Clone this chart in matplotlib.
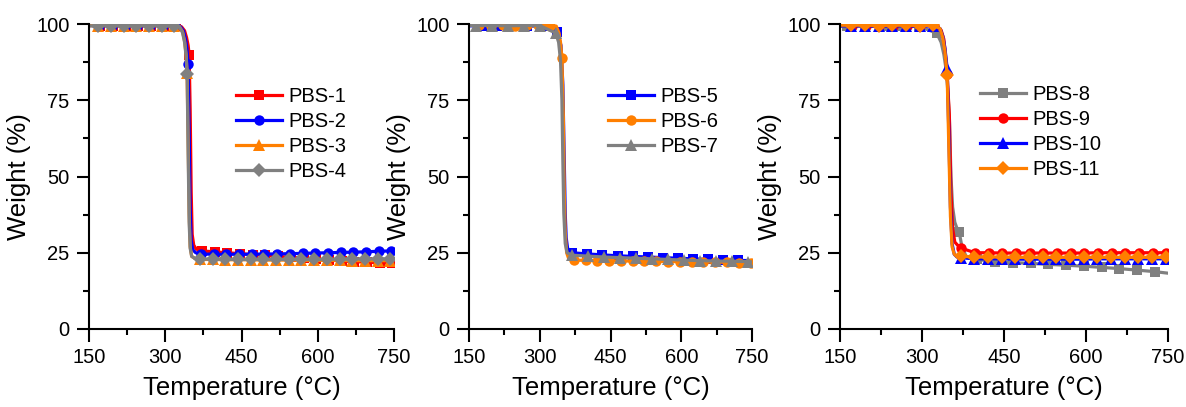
import matplotlib
matplotlib.use("Agg")
import matplotlib.pyplot as plt
from matplotlib.ticker import MultipleLocator

plt.rcParams['font.family'] = ['Liberation Sans', 'DejaVu Sans']

# ---------------- data (temperature in degC, weight in %) ----------------
# Each series: marker points (T_*, W_*) and extra curve-only points (Tx_*, Wx_*)

# Panel 1
T_PBS1 = [172, 197, 222, 247, 272, 297, 322, 347, 372, 397, 422, 447, 472, 497, 522, 547, 572, 597, 622, 647, 672, 697, 722, 747]
W_PBS1 = [99.5, 99.4, 99.5, 99.4, 99.5, 99.5, 99.4, 90.0, 25.6, 25.3, 25.0, 24.7, 24.4, 24.1, 23.8, 23.5, 23.2, 22.9, 22.6, 22.3, 22.1, 21.9, 21.7, 21.5]
Tx_PBS1 = [150, 332, 338, 342, 345, 349, 351, 353, 356, 361, 750]
Wx_PBS1 = [99.5, 99.1, 97.8, 95.5, 93.0, 72.0, 45.0, 31.0, 27.5, 26.2, 21.5]

T_PBS2 = [170, 195, 220, 245, 270, 295, 320, 345, 370, 395, 420, 445, 470, 495, 520, 545, 570, 595, 620, 645, 670, 695, 720, 745]
W_PBS2 = [99.5, 99.4, 99.5, 99.4, 99.5, 99.5, 99.4, 87.0, 24.6, 24.5, 24.5, 24.5, 24.5, 24.6, 24.6, 24.7, 24.8, 24.9, 25.0, 25.1, 25.2, 25.3, 25.5, 25.6]
Tx_PBS2 = [150, 330, 336, 340, 343, 347, 349, 351, 354, 360, 750]
Wx_PBS2 = [99.5, 99.1, 97.7, 95.0, 91.5, 65.0, 40.0, 29.0, 26.0, 25.0, 25.7]

T_PBS3 = [168, 193, 218, 243, 268, 293, 318, 343, 368, 393, 418, 443, 468, 493, 518, 543, 568, 593, 618, 643, 668, 693, 718, 743]
W_PBS3 = [99.5, 99.5, 99.4, 99.5, 99.5, 99.4, 99.5, 84.0, 22.8, 22.8, 22.7, 22.7, 22.7, 22.6, 22.6, 22.6, 22.5, 22.5, 22.5, 22.5, 22.4, 22.4, 22.4, 22.4]
Tx_PBS3 = [150, 328, 334, 338, 341, 345, 347, 349, 352, 358, 750]
Wx_PBS3 = [99.5, 99.1, 97.5, 94.5, 90.0, 62.0, 38.0, 27.0, 23.8, 23.2, 22.4]

T_PBS4 = [168, 193, 218, 243, 268, 293, 318, 343, 368, 393, 418, 443, 468, 493, 518, 543, 568, 593, 618, 643, 668, 693, 718, 743]
W_PBS4 = [99.4, 99.5, 99.5, 99.4, 99.5, 99.5, 99.4, 83.5, 23.0, 22.9, 22.9, 22.8, 22.8, 22.8, 22.8, 22.8, 22.8, 22.8, 22.9, 22.9, 23.0, 23.0, 23.0, 23.0]
Tx_PBS4 = [150, 328, 334, 338, 341, 345, 347, 349, 352, 358, 750]
Wx_PBS4 = [99.4, 99.0, 97.2, 94.0, 89.5, 58.0, 35.0, 26.5, 23.8, 23.2, 23.0]

# Panel 2
T_PBS5 = [177, 209, 241, 273, 305, 337, 369, 401, 433, 465, 497, 529, 561, 593, 625, 657, 689, 721]
W_PBS5 = [99.4, 99.3, 99.4, 99.3, 99.4, 97.4, 25.0, 24.6, 24.3, 24.0, 23.8, 23.6, 23.4, 23.2, 23.0, 22.8, 22.6, 22.5]
Tx_PBS5 = [150, 345, 349, 352, 354, 356, 359, 363, 750]
Wx_PBS5 = [99.4, 93.0, 80.0, 55.0, 38.0, 30.0, 26.5, 25.6, 22.4]

T_PBS6 = [172, 197, 222, 247, 272, 297, 322, 347, 372, 397, 422, 447, 472, 497, 522, 547, 572, 597, 622, 647, 672, 697, 722, 747]
W_PBS6 = [99.6, 99.5, 99.6, 99.5, 99.6, 99.6, 99.5, 89.0, 22.6, 22.5, 22.4, 22.4, 22.3, 22.3, 22.2, 22.2, 22.1, 22.1, 22.0, 22.0, 21.9, 21.9, 21.8, 21.8]
Tx_PBS6 = [150, 335, 341, 344, 350, 352, 354, 357, 361, 750]
Wx_PBS6 = [99.6, 99.3, 97.0, 94.0, 70.0, 45.0, 32.0, 25.0, 23.2, 21.8]

T_PBS7 = [164, 198, 232, 266, 300, 334, 368, 402, 436, 470, 504, 538, 572, 606, 640, 674, 708, 742]
W_PBS7 = [99.5, 99.5, 99.4, 99.5, 99.5, 97.0, 24.2, 23.9, 23.6, 23.4, 23.2, 23.0, 22.8, 22.6, 22.4, 22.3, 22.2, 22.1]
Tx_PBS7 = [150, 340, 344, 347, 349, 351, 354, 358, 750]
Wx_PBS7 = [99.5, 94.0, 88.0, 75.0, 55.0, 38.0, 28.0, 25.0, 22.0]

# Panel 3
T_PBS8 = [163, 196, 229, 262, 295, 327, 368, 401, 434, 466, 499, 531, 564, 596, 629, 661, 694, 726]
W_PBS8 = [99.3, 99.3, 99.2, 99.3, 99.2, 97.0, 31.8, 22.8, 22.1, 21.8, 21.5, 21.2, 20.9, 20.6, 20.2, 19.8, 19.3, 18.8]
Tx_PBS8 = [150, 335, 340, 345, 350, 353, 356, 360, 364, 372, 380, 390, 750]
Wx_PBS8 = [99.3, 94.0, 90.0, 84.0, 70.0, 50.0, 40.0, 35.0, 33.0, 28.0, 24.0, 23.2, 18.3]

T_PBS9 = [172, 197, 222, 247, 272, 297, 322, 346, 372, 397, 422, 447, 472, 497, 522, 547, 572, 597, 622, 647, 672, 697, 722, 747]
W_PBS9 = [99.5, 99.5, 99.4, 99.5, 99.5, 99.4, 99.5, 83.5, 26.5, 25.0, 25.0, 24.9, 24.9, 24.9, 24.9, 24.9, 24.9, 24.9, 25.0, 25.0, 25.0, 25.0, 25.0, 25.0]
Tx_PBS9 = [150, 335, 340, 344, 350, 353, 356, 360, 365, 750]
Wx_PBS9 = [99.5, 98.0, 95.0, 88.0, 70.0, 45.0, 33.0, 28.5, 27.5, 25.0]

T_PBS10 = [171, 196, 221, 246, 271, 296, 321, 346, 371, 396, 421, 446, 471, 496, 521, 546, 571, 596, 621, 646, 671, 696, 721, 746]
W_PBS10 = [99.4, 99.4, 99.3, 99.4, 99.4, 99.3, 99.4, 85.5, 23.4, 23.0, 23.0, 23.0, 22.9, 22.9, 22.9, 22.9, 22.9, 22.9, 23.0, 23.0, 23.0, 23.0, 23.0, 23.0]
Tx_PBS10 = [150, 333, 338, 342, 349, 352, 355, 359, 364, 750]
Wx_PBS10 = [99.4, 98.5, 96.0, 92.0, 65.0, 40.0, 28.0, 24.5, 23.6, 23.0]

T_PBS11 = [171, 196, 221, 246, 271, 296, 321, 346, 371, 396, 421, 446, 471, 496, 521, 546, 571, 596, 621, 646, 671, 696, 721, 746]
W_PBS11 = [99.6, 99.6, 99.5, 99.6, 99.6, 99.5, 99.6, 83.3, 23.8, 23.6, 23.6, 23.6, 23.5, 23.5, 23.5, 23.5, 23.5, 23.5, 23.5, 23.5, 23.5, 23.5, 23.5, 23.5]
Tx_PBS11 = [150, 333, 338, 342, 349, 352, 355, 359, 364, 750]
Wx_PBS11 = [99.6, 98.5, 95.5, 91.0, 60.0, 37.0, 27.0, 24.5, 23.9, 23.5]

LABELS = ['PBS-1', 'PBS-2', 'PBS-3', 'PBS-4', 'PBS-5', 'PBS-6', 'PBS-7',
          'PBS-8', 'PBS-9', 'PBS-10', 'PBS-11']
X_TICKS = [150, 300, 450, 600, 750]
Y_TICKS = [0, 25, 50, 75, 100]

RED, BLUE, ORANGE, GREY = '#FF0000', '#0000FF', '#FF7F00', '#808080'

panels = [
    [(T_PBS1, W_PBS1, Tx_PBS1, Wx_PBS1, LABELS[0], RED, 's'),
     (T_PBS2, W_PBS2, Tx_PBS2, Wx_PBS2, LABELS[1], BLUE, 'o'),
     (T_PBS3, W_PBS3, Tx_PBS3, Wx_PBS3, LABELS[2], ORANGE, '^'),
     (T_PBS4, W_PBS4, Tx_PBS4, Wx_PBS4, LABELS[3], GREY, 'D')],
    [(T_PBS5, W_PBS5, Tx_PBS5, Wx_PBS5, LABELS[4], BLUE, 's'),
     (T_PBS6, W_PBS6, Tx_PBS6, Wx_PBS6, LABELS[5], ORANGE, 'o'),
     (T_PBS7, W_PBS7, Tx_PBS7, Wx_PBS7, LABELS[6], GREY, '^')],
    [(T_PBS8, W_PBS8, Tx_PBS8, Wx_PBS8, LABELS[7], GREY, 's'),
     (T_PBS9, W_PBS9, Tx_PBS9, Wx_PBS9, LABELS[8], RED, 'o'),
     (T_PBS10, W_PBS10, Tx_PBS10, Wx_PBS10, LABELS[9], BLUE, '^'),
     (T_PBS11, W_PBS11, Tx_PBS11, Wx_PBS11, LABELS[10], ORANGE, 'D')],
]

# ---------------- layout ----------------
W_PX, H_PX = 1186, 407
fig = plt.figure(figsize=(W_PX / 100, H_PX / 100), dpi=100)

ax_px = [(89, 394), (469, 752), (840, 1168)]
top_px, bot_px = 24, 329
legend_anchor = [(236, 87), (608, 87), (980, 85)]

for (l, r), series, (lx, ly) in zip(ax_px, panels, legend_anchor):
    ax = fig.add_axes([l / W_PX, 1 - bot_px / H_PX, (r - l) / W_PX, (bot_px - top_px) / H_PX])
    for tm, wm, tx, wx, lab, col, mk in series:
        pts = sorted([(t, w, True) for t, w in zip(tm, wm)] + [(t, w, False) for t, w in zip(tx, wx)])
        t = [p[0] for p in pts]
        w = [p[1] for p in pts]
        me = [i for i, p in enumerate(pts) if p[2]]
        ms = 7 if mk == 'D' else 8 if mk == '^' else 7.5
        ax.plot(t, w, color=col, lw=2.3, marker=mk, markersize=ms, markevery=me,
                markeredgewidth=0, label=lab)
    ax.set_xlim(150, 750)
    ax.set_ylim(0, 100)
    ax.set_xticks(X_TICKS)
    ax.set_yticks(Y_TICKS)
    ax.xaxis.set_minor_locator(MultipleLocator(75))
    ax.yaxis.set_minor_locator(MultipleLocator(12.5))
    for s in ['top', 'right']:
        ax.spines[s].set_visible(False)
    for s in ['left', 'bottom']:
        ax.spines[s].set_linewidth(1.5)
    ax.tick_params(which='major', direction='out', length=9, width=1.5, labelsize=14.5, pad=5)
    ax.tick_params(which='minor', direction='out', length=4.5, width=1.5)
    ax.set_xlabel('Temperature (°C)', fontsize=18.5, labelpad=6)
    ax.set_ylabel('Weight (%)', fontsize=18.5, labelpad=4)
    ax.legend(loc='upper left',
              bbox_to_anchor=((lx - l) / (r - l), (bot_px - ly) / (bot_px - top_px)),
              frameon=False, fontsize=14.5, borderpad=0, borderaxespad=0,
              handlelength=2.3, handletextpad=0.3, labelspacing=0.3, numpoints=1)

fig.savefig('out.png', dpi=100)
